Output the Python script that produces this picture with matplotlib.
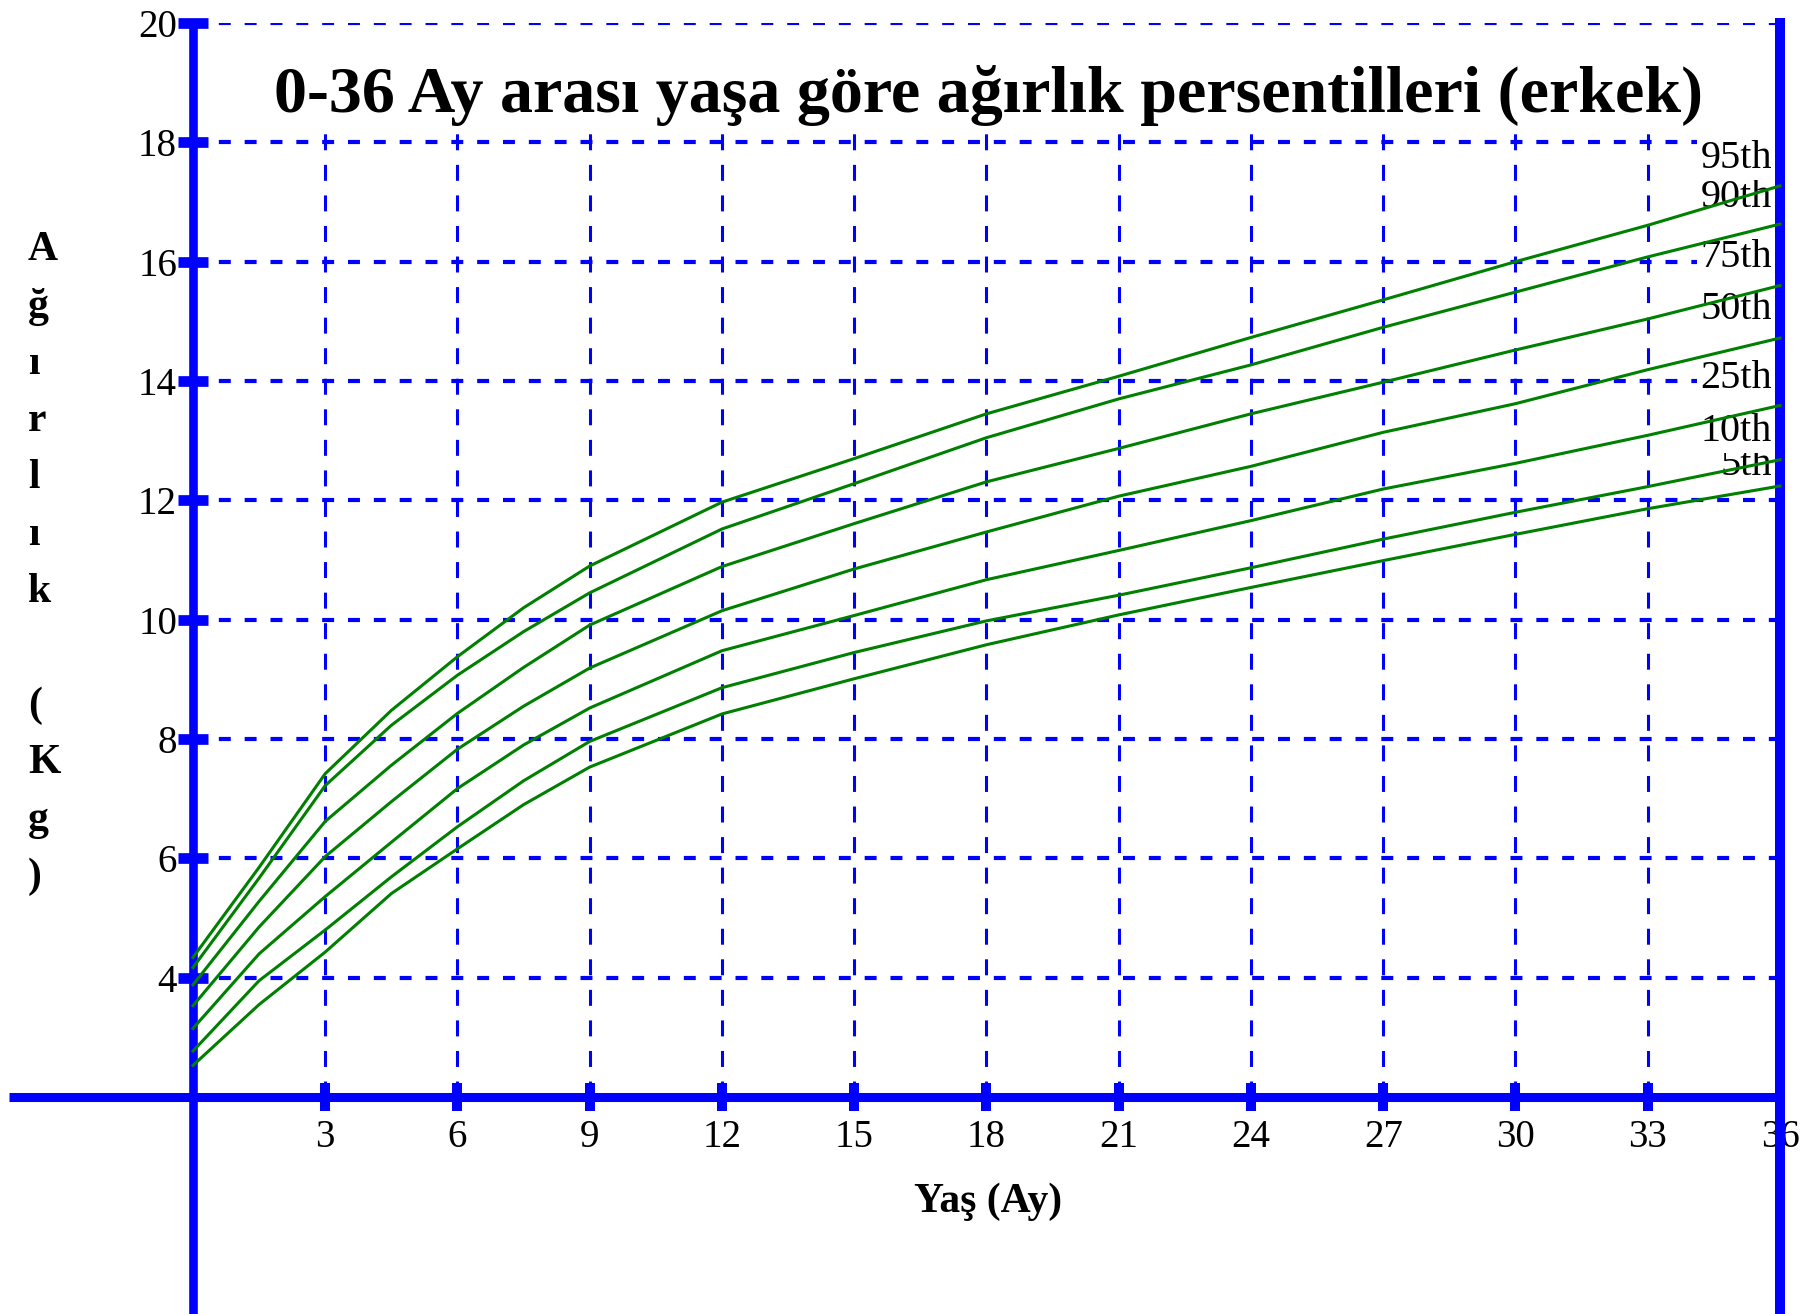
import matplotlib.pyplot as plt

# age in months and weight percentiles (kg), boys 0-36 months
months = [0, 1.5, 3, 4.5, 6, 7.5, 9, 12, 15, 18, 21, 24, 27, 30, 33, 36]
p95 = [4.34, 5.85, 7.42, 8.48, 9.38, 10.20, 10.90, 11.97, 12.70, 13.45, 14.08, 14.73, 15.36, 16.00, 16.61, 17.27]
p90 = [4.17, 5.67, 7.22, 8.23, 9.07, 9.80, 10.45, 11.52, 12.28, 13.05, 13.70, 14.27, 14.90, 15.49, 16.08, 16.63]
p75 = [3.88, 5.28, 6.62, 7.56, 8.43, 9.20, 9.91, 10.89, 11.61, 12.31, 12.87, 13.45, 13.98, 14.52, 15.04, 15.60]
p50 = [3.53, 4.85, 6.03, 6.95, 7.83, 8.55, 9.19, 10.15, 10.85, 11.47, 12.07, 12.57, 13.14, 13.62, 14.19, 14.72]
p25 = [3.15, 4.40, 5.36, 6.27, 7.17, 7.90, 8.52, 9.48, 10.07, 10.67, 11.16, 11.66, 12.19, 12.62, 13.09, 13.59]
p10 = [2.77, 3.95, 4.80, 5.69, 6.53, 7.30, 7.96, 8.86, 9.45, 9.98, 10.41, 10.87, 11.35, 11.80, 12.23, 12.68]
p5 = [2.53, 3.55, 4.43, 5.41, 6.16, 6.90, 7.53, 8.42, 9.01, 9.58, 10.08, 10.54, 10.99, 11.43, 11.86, 12.24]

curves = [p5, p10, p25, p50, p75, p90, p95]
curve_names = ["5th", "10th", "25th", "50th", "75th", "90th", "95th"]
label_y = [12.58, 13.16, 14.04, 15.20, 16.07, 17.08, 17.73]

x_ticks = [3, 6, 9, 12, 15, 18, 21, 24, 27, 30, 33, 36]
y_ticks = [4, 6, 8, 10, 12, 14, 16, 18, 20]

title = "0-36 Ay arası yaşa göre ağırlık persentilleri (erkek)"
ylabel_chars = ["A", "ğ", "ı", "r", "l", "ı", "k", "", "(", "K", "g", ")"]
xlabel = "Yaş (Ay)"

plt.rcParams['font.family'] = ['Liberation Serif', 'DejaVu Serif']
plt.rcParams['lines.scale_dashes'] = False

W, H = 1808, 1314
blue = '#0000ff'
green = '#008000'

fig = plt.figure(figsize=(W / 100, H / 100), dpi=100)
ax = fig.add_axes([193 / W, (H - 1097) / H, (1780 - 193) / W, (1097 - 23) / H])
ax.set_xlim(0, 36)
ax.set_ylim(2, 20)
for s in ax.spines.values():
    s.set_visible(False)

# dashed grid
ax.hlines(y_ticks, 0, 36, colors=blue, linewidth=3, linestyles=(0, (8.6, 10)), zorder=1)
ax.vlines(x_ticks[:-1], 2, 18.16, colors=blue, linewidth=2.2, linestyles=(0, (11.5, 10.5)), zorder=1)

# thick axis lines, running past the plot area
ax.plot([0, 0], [-0.21, 1.0], transform=ax.get_xaxis_transform(), color=blue,
        lw=6.2, clip_on=False, zorder=4, solid_capstyle='butt')
ax.plot([36, 36], [-0.21, 1.005], transform=ax.get_xaxis_transform(), color=blue,
        lw=7.2, clip_on=False, zorder=4, solid_capstyle='butt')
ax.plot([-0.116, 1.0], [2, 2], transform=ax.get_yaxis_transform(), color=blue,
        lw=6.5, clip_on=False, zorder=4, solid_capstyle='butt')

ax.set_xticks(x_ticks)
ax.set_yticks(y_ticks)
ax.tick_params(axis='x', direction='inout', length=19.5, width=7.2, color=blue,
               labelsize=28, pad=6)
ax.tick_params(axis='y', direction='inout', length=21, width=7.7, color=blue,
               labelsize=28, pad=1)

for i, (vals, name, ly) in enumerate(zip(curves, curve_names, label_y)):
    ax.text(35.82, ly, name, ha='right', va='center', fontsize=29, zorder=2 + i * 0.01,
            bbox=dict(facecolor='white', edgecolor='none', boxstyle='square,pad=0.08'))
    ax.plot(months, vals, color=green, lw=2.2, zorder=6, clip_on=False)

fig.text(989 / W, 1 - 112 / H, title, ha='center', va='baseline',
         fontsize=47.5, fontweight='bold')

for i, ch in enumerate(ylabel_chars):
    fig.text(28 / W, 1 - (260 + 57 * i) / H, ch, ha='left', va='baseline',
             fontsize=30, fontweight='bold')

fig.text(988 / W, 1 - 1212 / H, xlabel, ha='center', va='baseline',
         fontsize=30, fontweight='bold')

fig.savefig('out.png', dpi=100)
